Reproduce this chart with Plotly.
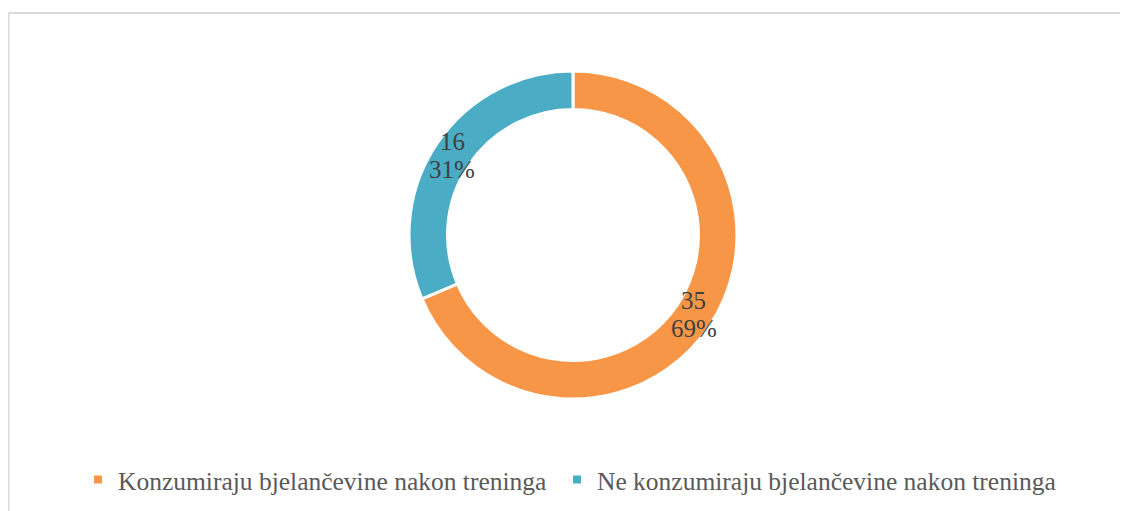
import math
import plotly.graph_objects as go

categories = ["Konzumiraju bjelančevine nakon treninga", "Ne konzumiraju bjelančevine nakon treninga"]
values = [35, 16]
colors = ["#F79646", "#4BACC6"]

# the page adds an 8px body margin, so the figure is 8px smaller than the window
W, H = 1120, 503
M_T, M_B = 63, 112
PLOT_H = H - M_T - M_B
CX_PX = 565
HOLE = 0.765
FONT = "Liberation Serif"

fig = go.Figure()
fig.add_trace(go.Pie(
    labels=categories, values=values, sort=False, direction="clockwise", rotation=0,
    hole=HOLE, marker=dict(colors=colors, line=dict(color="white", width=3)),
    textinfo="none", showlegend=False, hoverinfo="label+value+percent",
    domain=dict(x=[(2 * CX_PX - W) / W, 1], y=[0, 1]),
))

# legend entries with small square markers, one legend box per entry
legend_ids = ["legend", "legend2"]
for name, col, lid in zip(categories, colors, legend_ids):
    fig.add_trace(go.Scatter(x=[None], y=[None], mode="markers", name=name, legend=lid,
                             marker=dict(symbol="square", size=8, color=col)))

# data labels at the middle of the ring, computed from the values
total = sum(values)
outer_r = PLOT_H / 2
inner_r = outer_r * HOLE
mid_r = (outer_r + inner_r) / 2
cum = 0
for v in values:
    mid = (cum + v / 2) / total * 2 * math.pi
    cum += v
    xp = (CX_PX + mid_r * math.sin(mid)) / W
    yp = 0.5 + mid_r * math.cos(mid) / PLOT_H
    pct = round(v / total * 100)
    for txt, shift in ((f"{v}", 14), (f"{pct}%", -14)):
        fig.add_annotation(x=xp, y=yp, xref="paper", yref="paper", showarrow=False,
                           xanchor="center", yanchor="middle",
                           text=txt, yshift=shift, align="center",
                           font=dict(family=FONT, size=25, color="#404040"))

# chart border (top and left edges; the others fall outside the window)
top_y = (H - M_B - 5) / PLOT_H
fig.add_shape(type="line", xref="paper", yref="paper", x0=0.5 / W, x1=1.2, y0=top_y, y1=top_y,
              line=dict(color="#D9D9D9", width=2))
fig.add_shape(type="line", xref="paper", yref="paper", x0=0.5 / W, x1=0.5 / W, y0=-0.5, y1=top_y,
              line=dict(color="#D9D9D9", width=2))

leg_y = -(472 - (H - M_B)) / PLOT_H
leg_common = dict(orientation="h", xanchor="left", y=leg_y, yanchor="middle",
                  font=dict(family=FONT, size=25.5, color="#595959"),
                  itemwidth=30, bgcolor="rgba(0,0,0,0)")

fig.update_layout(
    width=W, height=H,
    margin=dict(l=0, r=0, t=M_T, b=M_B),
    paper_bgcolor="white", plot_bgcolor="white",
    xaxis=dict(visible=False), yaxis=dict(visible=False),
    legend=dict(x=70 / W, **leg_common),
    legend2=dict(x=549 / W, **leg_common),
)

fig.write_html("out.html")
